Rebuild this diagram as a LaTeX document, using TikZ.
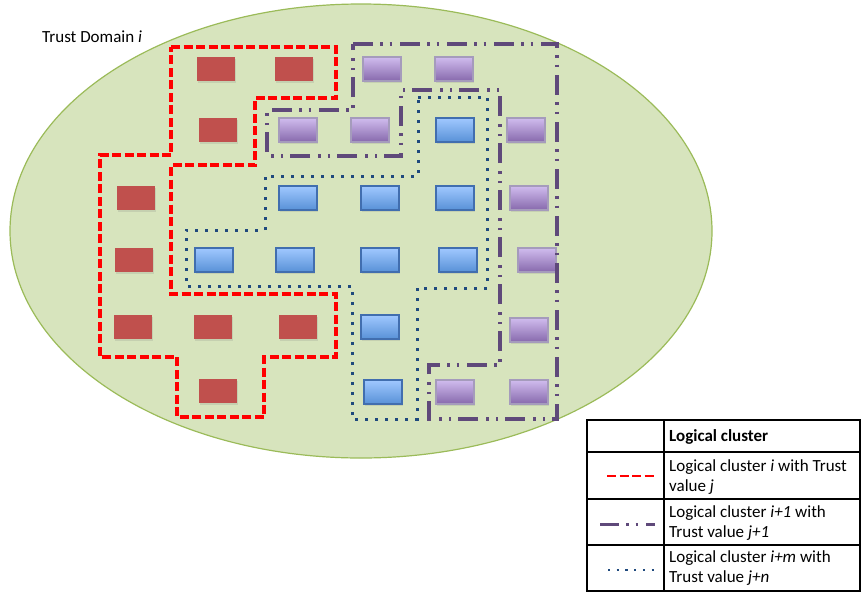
\documentclass[tikz,border=0pt]{standalone}
\usepackage{fontspec}
\setmainfont{Carlito}
\usetikzlibrary{shapes.geometric,shadows}

\definecolor{domainfill}{RGB}{215,228,189}
\definecolor{domainline}{RGB}{155,187,89}
\definecolor{redfill}{RGB}{192,80,77}
\definecolor{bluetop}{RGB}{160,200,255}
\definecolor{bluebot}{RGB}{88,145,215}
\definecolor{blueline}{RGB}{65,110,175}
\definecolor{purpletop}{RGB}{208,188,238}
\definecolor{purplebot}{RGB}{135,105,172}
\definecolor{purpleline}{RGB}{165,155,188}
\definecolor{clusterpurple}{RGB}{95,73,122}
\definecolor{clusterblue}{RGB}{31,73,125}

\begin{document}
\begin{tikzpicture}[x=1pt,y=-1pt]
	\tikzset{txt/.style = {font=\fontsize{17}{19.5}\selectfont, inner sep=0}}
	\tikzset{box/.style = {rectangle, inner sep=0, minimum width=38pt, minimum height=24pt,
	    drop shadow={shadow xshift=1pt, shadow yshift=-1.5pt, opacity=.2}}}
	\tikzset{redbox/.style = {box, fill=redfill}}
	\tikzset{bluebox/.style = {box, top color=bluetop, bottom color=bluebot, draw=blueline, line width=1.2pt}}
	\tikzset{purplebox/.style = {box, top color=purpletop, bottom color=purplebot, draw=purpleline, line width=1.2pt}}
	\tikzset{redcluster/.style = {draw=red, line width=3.2pt, dash pattern=on 9pt off 3.5pt}}
	\tikzset{purplecluster/.style = {draw=clusterpurple, line width=3.4pt,
	    dash pattern=on 20pt off 7pt on 2.5pt off 7pt on 2.5pt off 8pt}}
	\tikzset{bluecluster/.style = {draw=clusterblue, line width=3pt, dash pattern=on 3pt off 7pt}}

	\useasboundingbox (0,0) rectangle (861,592);

	% trust domain
	\node[ellipse, inner sep=0, minimum width=702pt, minimum height=454pt,
	    fill=domainfill, draw=domainline, line width=1.2pt] (domain) at (361,231) {};
	\node[txt, anchor=base west] (domainlabel) at (42,42) {Trust Domain \textit{i}};

	% red nodes
	\node[redbox] (r1) at (216,69) {};
	\node[redbox] (r2) at (294,69) {};
	\node[redbox] (r3) at (218,130) {};
	\node[redbox] (r4) at (136,198) {};
	\node[redbox] (r5) at (134,260) {};
	\node[redbox] (r6) at (133,327) {};
	\node[redbox] (r7) at (213,327) {};
	\node[redbox] (r8) at (298,327) {};
	\node[redbox] (r9) at (218,391) {};

	% blue nodes
	\node[bluebox] (b1) at (455,130) {};
	\node[bluebox] (b2) at (298,198) {};
	\node[bluebox] (b3) at (380,198) {};
	\node[bluebox] (b4) at (455,198) {};
	\node[bluebox] (b5) at (214,260) {};
	\node[bluebox] (b6) at (295,260) {};
	\node[bluebox] (b7) at (380,260) {};
	\node[bluebox] (b8) at (458,260) {};
	\node[bluebox] (b9) at (380,327) {};
	\node[bluebox] (b10) at (383,392) {};

	% purple nodes
	\node[purplebox] (p1) at (382,69) {};
	\node[purplebox] (p2) at (454,69) {};
	\node[purplebox] (p3) at (298,130) {};
	\node[purplebox] (p4) at (370,130) {};
	\node[purplebox] (p5) at (526,130) {};
	\node[purplebox] (p6) at (529,198) {};
	\node[purplebox] (p7) at (537,260) {};
	\node[purplebox] (p8) at (529,330) {};
	\node[purplebox] (p9) at (455,392) {};
	\node[purplebox] (p10) at (529,392) {};

	% clusters
	\draw[redcluster] (171,47) -- (336,47) -- (336,98) -- (255,98) -- (255,165) -- (171,165)
	    -- (171,294) -- (336,294) -- (336,357) -- (264,357) -- (264,417) -- (177,417)
	    -- (177,357) -- (100,357) -- (100,155) -- (171,155) -- cycle;
	\draw[purplecluster] (353,44) -- (557,44) -- (557,419) -- (429,419) -- (429,365) -- (500,365)
	    -- (500,90) -- (401,90) -- (401,156) -- (267,156) -- (267,110) -- (353,110) -- cycle;
	\draw[bluecluster] (418,97) -- (487,97) -- (487,288) -- (417,288) -- (417,419) -- (352,419)
	    -- (352,286) -- (186,286) -- (186,230) -- (265,230) -- (265,176) -- (418,176) -- cycle;

	% legend
	\draw[line width=1.2pt] (587,420) rectangle (860,591);
	\draw[line width=1.2pt] (664,420) -- (664,591);
	\draw[line width=1.2pt] (587,452) -- (860,452);
	\draw[line width=1.2pt] (587,499) -- (860,499);
	\draw[line width=1.2pt] (587,545) -- (860,545);
	\node[txt, anchor=base west, font=\fontsize{17}{19.5}\selectfont\bfseries] (head) at (669,441) {Logical cluster};
	\node[txt, anchor=base west, align=left] (keyi) at (669,491) {Logical cluster \textit{i} with Trust\\value \textit{j}};
	\node[txt, anchor=base west, align=left] (keyii) at (669,537) {Logical cluster \textit{i+1} with\\Trust value \textit{j+1}};
	\node[txt, anchor=base west, align=left] (keym) at (669,582) {Logical cluster \textit{i+m} with\\Trust value \textit{j+n}};
	\coordinate (si) at (607,476);
	\coordinate (ei) at (654,476);
	\coordinate (sii) at (600,524);
	\coordinate (eii) at (655,524);
	\coordinate (sm) at (608,570);
	\coordinate (em) at (655,570);
	\draw[redcluster, line width=2.7pt] (si) -- (ei);
	\draw[purplecluster, line width=3pt, dash pattern=on 19pt off 7pt on 2.5pt off 7pt on 2.5pt off 8pt] (sii) -- (eii);
	\draw[bluecluster, line width=2.2pt, dash pattern=on 2.2pt off 6.5pt] (sm) -- (em);
\end{tikzpicture}
\end{document}
